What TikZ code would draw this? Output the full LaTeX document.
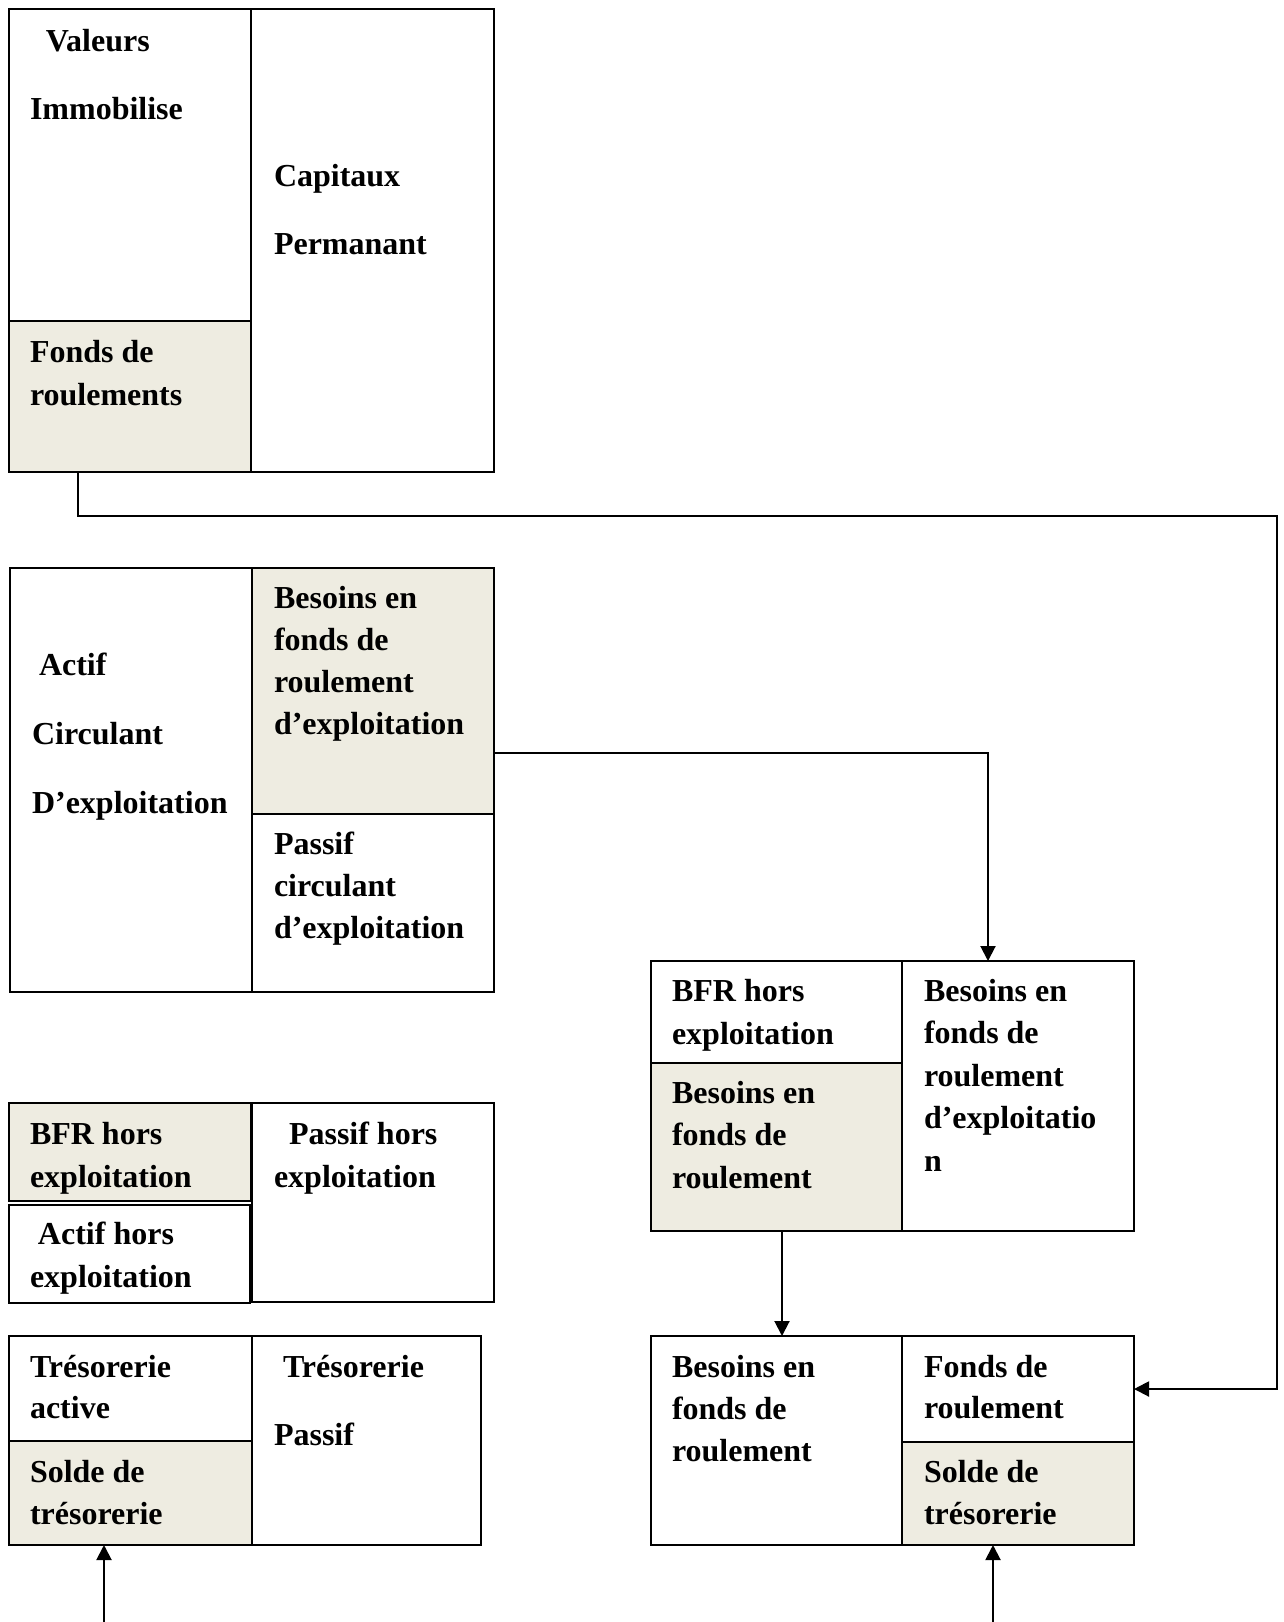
\documentclass[tikz,border=0pt]{standalone}
\usepackage{fontspec}
\setmainfont{Liberation Serif}
\usetikzlibrary{arrows.meta,calc}
\definecolor{beige}{HTML}{EEECE1}
% a left-aligned block of lines whose baseline is that of its first line
\newcommand\txtlines[2]{\vtop{\baselineskip=#1\lineskiplimit=-1000pt\lineskip=0pt\halign{##\hfil\cr#2\crcr}}}
\tikzset{
  cell/.style={draw=black, line width=2.2pt, inner sep=0pt, outer sep=0pt, anchor=north west, fill=white},
  shadecell/.style={cell, fill=beige},
  lbl/.style={anchor=base west, inner sep=0pt, outer sep=0pt, font=\bfseries\fontsize{32}{42}\selectfont},
  link/.style={line width=2pt, -{Triangle[length=15pt,width=15pt]}}
}
\begin{document}
\begin{tikzpicture}[x=1pt,y=-1pt]
\useasboundingbox (0,0) rectangle (1283,1622);

% balance sheet: fixed assets / permanent capital
\node[cell, minimum width=242pt, minimum height=312pt] (vi) at (9,9) {};
\node[shadecell, minimum width=242pt, minimum height=151pt] (fr) at (9,321) {};
\node[cell, minimum width=243pt, minimum height=463pt] (cp) at (251,9) {};

% operating current items
\node[cell, minimum width=242pt, minimum height=424pt] (ac) at (10,568) {};
\node[shadecell, minimum width=242pt, minimum height=246pt] (bfre) at (252,568) {};
\node[cell, minimum width=242pt, minimum height=178pt] (pce) at (252,814) {};

% non-operating items
\node[shadecell, minimum width=242pt, minimum height=98pt] (bhe) at (9,1103) {};
\node[cell, minimum width=241pt, minimum height=98pt] (ahe) at (9,1205) {};
\node[cell, minimum width=242pt, minimum height=199pt] (phe) at (252,1103) {};

% treasury
\node[cell, minimum width=243pt, minimum height=105pt] (ta) at (9,1336) {};
\node[shadecell, minimum width=243pt, minimum height=104pt] (st) at (9,1441) {};
\node[cell, minimum width=229pt, minimum height=209pt] (tp) at (252,1336) {};

% total working capital requirement
\node[cell, minimum width=251pt, minimum height=102pt] (rbhe) at (651,961) {};
\node[shadecell, minimum width=251pt, minimum height=168pt] (rbfr) at (651,1063) {};
\node[cell, minimum width=232pt, minimum height=270pt] (rbfre) at (902,961) {};

% working capital vs requirement
\node[cell, minimum width=251pt, minimum height=209pt] (rbfr2) at (651,1336) {};
\node[cell, minimum width=232pt, minimum height=106pt] (rfr) at (902,1336) {};
\node[shadecell, minimum width=232pt, minimum height=103pt] (rst) at (902,1442) {};

% labels
\node[lbl] (tvi) at (30,51) {\txtlines{68pt}{\kern16pt Valeurs\cr Immobilise}};
\node[lbl] (tcp) at (274,186) {\txtlines{68pt}{Capitaux\cr Permanant}};
\node[lbl] (tfr) at (30,362) {\txtlines{43pt}{Fonds de\cr roulements}};

\node[lbl] (tac) at (32,675) {\txtlines{69pt}{\kern7pt Actif\cr Circulant\cr D’exploitation}};
\node[lbl] (tbfre) at (274,608) {\txtlines{42.3pt}{Besoins en\cr fonds de\cr roulement\cr d’exploitation}};
\node[lbl] (tpce) at (274,854) {\txtlines{42pt}{Passif\cr circulant\cr d’exploitation}};

\node[lbl] (tbhe) at (30,1144) {\txtlines{43pt}{BFR hors\cr exploitation}};
\node[lbl] (tahe) at (30,1244) {\txtlines{43pt}{\kern8pt Actif hors\cr exploitation}};
\node[lbl] (tphe) at (274,1144) {\txtlines{43pt}{\kern15pt Passif hors\cr exploitation}};

\node[lbl] (tta) at (30,1377) {\txtlines{41pt}{Trésorerie\cr active}};
\node[lbl] (tst) at (30,1482) {\txtlines{42pt}{Solde de\cr trésorerie}};
\node[lbl] (ttp) at (274,1377) {\txtlines{68pt}{\kern9pt Trésorerie\cr Passif}};

\node[lbl] (trbhe) at (672,1001) {\txtlines{43pt}{BFR hors\cr exploitation}};
\node[lbl] (trbfr) at (672,1103) {\txtlines{42.5pt}{Besoins en\cr fonds de\cr roulement}};
\node[lbl] (trbfre) at (924,1001) {\txtlines{42.5pt}{Besoins en\cr fonds de\cr roulement\cr d’exploitatio\cr n}};

\node[lbl] (trbfr2) at (672,1377) {\txtlines{42pt}{Besoins en\cr fonds de\cr roulement}};
\node[lbl] (trfr) at (924,1377) {\txtlines{41pt}{Fonds de\cr roulement}};
\node[lbl] (trst) at (924,1482) {\txtlines{42pt}{Solde de\cr trésorerie}};

% connectors
\coordinate (k1) at (1277,516);
\draw[link] ([xshift=69pt]fr.south west) |- (k1) |- (rfr.east);
\draw[link] ([yshift=-62pt]bfre.east) -| ([xshift=-30pt]rbfre.north);
\draw[link] ([xshift=5.5pt]rbfr.south) -- ([xshift=5.5pt]rbfr2.north);
\coordinate (b1) at (104,1622);
\coordinate (b2) at (993,1622);
\draw[link] (b1) -- (st.south -| b1);
\draw[link] (b2) -- (rst.south -| b2);
\end{tikzpicture}
\end{document}
